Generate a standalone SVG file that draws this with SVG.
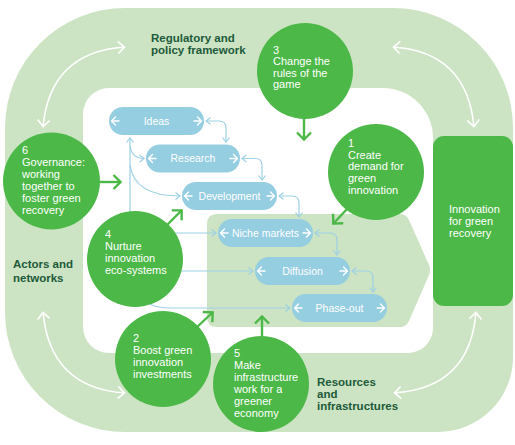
<svg xmlns="http://www.w3.org/2000/svg" width="515" height="445" viewBox="0 0 515 445">
<style>
.band{fill:#cce4c3}
.circ{fill:#4cb847}
.pill{fill:#95cde1}
.ct{font-family:"Liberation Sans",Arial,sans-serif;font-size:11px;fill:#ffffff}
.pt{font-family:"Liberation Sans",Arial,sans-serif;font-size:10.5px;fill:#ffffff;text-anchor:middle}
.lab{font-family:"Liberation Sans",Arial,sans-serif;font-size:11.5px;font-weight:bold;fill:#1d5a3a}
.blue{fill:none;stroke:#9ed1e5;stroke-width:1.2}
.grn{fill:none;stroke:#4cb847;stroke-width:2.4}
.wht{fill:none;stroke:#ffffff;stroke-width:1.6}
.pa{fill:none;stroke:#ffffff;stroke-width:1.4;stroke-linecap:round;stroke-linejoin:round}
</style>
<defs>
<marker id="mb" viewBox="0 0 7 10" refX="6" refY="5" markerWidth="7" markerHeight="10" markerUnits="userSpaceOnUse" orient="auto-start-reverse">
<path d="M1.5,1.5 L6,5 L1.5,8.5" fill="none" stroke="#9ed1e5" stroke-width="1.2"/>
</marker>
<marker id="mg" viewBox="0 0 10 16" refX="9" refY="8" markerWidth="10" markerHeight="16" markerUnits="userSpaceOnUse" orient="auto-start-reverse">
<path d="M1.5,1 L8.5,8 L1.5,15" fill="none" stroke="#4cb847" stroke-width="2.4"/>
</marker>
<marker id="mw" viewBox="0 0 10 14" refX="9" refY="7" markerWidth="10" markerHeight="14" markerUnits="userSpaceOnUse" orient="auto-start-reverse">
<path d="M2,1 L8.5,7 L2,13" fill="none" stroke="#ffffff" stroke-width="1.6"/>
</marker>
</defs>

<g id="background">
<path class="band" d="M125,8 H393 A120,120 0 0 1 513,128 V357 A75,75 0 0 1 438,432 H125 A120,120 0 0 1 5,312 V128 A120,120 0 0 1 125,8 Z"/>
<path fill="#ffffff" d="M110,88 H383 A50,50 0 0 1 433,138 V328 A25,25 0 0 1 408,353 H109 A26,26 0 0 1 83,327 V114 A26,26 0 0 1 110,88 Z"/>
<path class="band" d="M217,214 H400 Q406,214 409,220 L429,265 Q431,270 429,275 L409,321 Q406,327 400,327 H217 Q207,327 207,317 V224 Q207,214 217,214 Z"/>
</g>

<g id="connectors">
<path class="blue" marker-start="url(#mb)" marker-end="url(#mb)" d="M206,121 H219 Q226,121 226,128 V142"/>
<path class="blue" marker-start="url(#mb)" marker-end="url(#mb)" d="M242,158.5 H255 Q262,158.5 262,165 V180"/>
<path class="blue" marker-start="url(#mb)" marker-end="url(#mb)" d="M279,196 H292 Q299,196 299,203 V217"/>
<path class="blue" marker-start="url(#mb)" marker-end="url(#mb)" d="M315,233 H330 Q337,233 337,240 V255"/>
<path class="blue" marker-start="url(#mb)" marker-end="url(#mb)" d="M352,271 H366 Q373,271 373,278 V292"/>
<path class="blue" marker-start="url(#mb)" d="M130,138 V216"/>
<path class="blue" marker-end="url(#mb)" d="M130,146 Q132,158.5 144,158.5"/>
<path class="blue" marker-end="url(#mb)" d="M130,165 Q134,196 180,196"/>
<path class="blue" marker-end="url(#mb)" d="M170,233 H216"/>
<path class="blue" marker-end="url(#mb)" d="M178,271 H253"/>
<path class="blue" marker-end="url(#mb)" d="M150,304 Q157,308 172,308 H290"/>
<path class="grn" marker-end="url(#mg)" d="M100,182 H121"/>
<path class="grn" marker-end="url(#mg)" d="M166,226 L182,210"/>
<path class="grn" marker-end="url(#mg)" d="M196,328 L213,312"/>
<path class="grn" marker-end="url(#mg)" d="M348,208 L333,224"/>
<path class="grn" marker-end="url(#mg)" d="M304,118 V140"/>
<path class="grn" marker-end="url(#mg)" d="M262,337 V316"/>
<path class="wht" marker-start="url(#mw)" marker-end="url(#mw)" d="M125,47 Q50,52 43,127"/>
<path class="wht" marker-start="url(#mw)" marker-end="url(#mw)" d="M393,47 Q467,52 474,127"/>
<path class="wht" marker-start="url(#mw)" marker-end="url(#mw)" d="M43,312 Q50,388 125,393"/>
<path class="wht" marker-start="url(#mw)" marker-end="url(#mw)" d="M476,312 Q470,388 394,393"/>
</g>

<g id="ideas">
<rect class="pill" x="109" y="107" width="95" height="28" rx="14"/>
<path class="pa" d="M119,121 H111.5 M115.5,117 L111.5,121 L115.5,125 M194,121 H201.5 M197.5,117 L201.5,121 L197.5,125"/>
<text class="pt" x="156.5" y="124.7">Ideas</text>
</g>
<g id="research">
<rect class="pill" x="146" y="144.5" width="94" height="28" rx="14"/>
<path class="pa" d="M156,158.5 H148.5 M152.5,154.5 L148.5,158.5 L152.5,162.5 M230,158.5 H237.5 M233.5,154.5 L237.5,158.5 L233.5,162.5"/>
<text class="pt" x="193" y="162.2">Research</text>
</g>
<g id="development">
<rect class="pill" x="182" y="182" width="95" height="28" rx="14"/>
<path class="pa" d="M192,196 H184.5 M188.5,192 L184.5,196 L188.5,200 M267,196 H274.5 M270.5,192 L274.5,196 L270.5,200"/>
<text class="pt" x="229.5" y="199.7">Development</text>
</g>
<g id="niche-markets">
<rect class="pill" x="218" y="219" width="95" height="28" rx="14"/>
<path class="pa" d="M228,233 H220.5 M224.5,229 L220.5,233 L224.5,237 M303,233 H310.5 M306.5,229 L310.5,233 L306.5,237"/>
<text class="pt" x="265.5" y="236.7">Niche markets</text>
</g>
<g id="diffusion">
<rect class="pill" x="255" y="257" width="95" height="28" rx="14"/>
<path class="pa" d="M265,271 H257.5 M261.5,267 L257.5,271 L261.5,275 M340,271 H347.5 M343.5,267 L347.5,271 L343.5,275"/>
<text class="pt" x="302.5" y="274.7">Diffusion</text>
</g>
<g id="phase-out">
<rect class="pill" x="292" y="294" width="95" height="28" rx="14"/>
<path class="pa" d="M302,308 H294.5 M298.5,304 L294.5,308 L298.5,312 M377,308 H384.5 M380.5,304 L384.5,308 L380.5,312"/>
<text class="pt" x="339.5" y="311.7">Phase-out</text>
</g>

<g id="c3">
<circle class="circ" cx="305" cy="71" r="48"/>
<text class="ct"><tspan x="273" y="53.5">3</tspan><tspan x="273" y="65">Change the</tspan><tspan x="273" y="76.5">rules of the</tspan><tspan x="273" y="88">game</tspan></text>
</g>
<g id="c1">
<circle class="circ" cx="376" cy="172" r="48"/>
<text class="ct"><tspan x="348" y="147">1</tspan><tspan x="348" y="158.7">Create</tspan><tspan x="348" y="170.4">demand for</tspan><tspan x="348" y="182.1">green</tspan><tspan x="348" y="193.8">innovation</tspan></text>
</g>
<g id="c6">
<circle class="circ" cx="51.5" cy="181" r="48.5"/>
<text class="ct"><tspan x="22" y="154">6</tspan><tspan x="22" y="166">Governance:</tspan><tspan x="22" y="178">working</tspan><tspan x="22" y="190">together to</tspan><tspan x="22" y="202">foster green</tspan><tspan x="22" y="214">recovery</tspan></text>
</g>
<g id="c4">
<circle class="circ" cx="135" cy="259" r="48"/>
<text class="ct"><tspan x="105" y="238">4</tspan><tspan x="105" y="250">Nurture</tspan><tspan x="105" y="262">innovation</tspan><tspan x="105" y="274">eco-systems</tspan></text>
</g>
<g id="c2">
<circle class="circ" cx="163" cy="359" r="48"/>
<text class="ct"><tspan x="133" y="342">2</tspan><tspan x="133" y="354">Boost green</tspan><tspan x="133" y="366">innovation</tspan><tspan x="133" y="378">investments</tspan></text>
</g>
<g id="c5">
<circle class="circ" cx="261" cy="384" r="48"/>
<text class="ct"><tspan x="234" y="357">5</tspan><tspan x="234" y="369">Make</tspan><tspan x="234" y="381">infrastructure</tspan><tspan x="234" y="393">work for a</tspan><tspan x="234" y="405">greener</tspan><tspan x="234" y="417">economy</tspan></text>
</g>
<g id="innovation-box">
<rect class="circ" x="433" y="136" width="80" height="170" rx="11"/>
<text class="ct"><tspan x="449" y="213">Innovation</tspan><tspan x="449" y="225">for green</tspan><tspan x="449" y="237">recovery</tspan></text>
</g>

<g id="labels">
<text class="lab"><tspan x="151" y="41.5">Regulatory and</tspan><tspan x="151" y="53.5">policy framework</tspan></text>
<text class="lab"><tspan x="13" y="268">Actors and</tspan><tspan x="13" y="281.5">networks</tspan></text>
<text class="lab"><tspan x="317" y="386">Resources</tspan><tspan x="317" y="397.7">and</tspan><tspan x="317" y="409.5">infrastructures</tspan></text>
</g>
</svg>
